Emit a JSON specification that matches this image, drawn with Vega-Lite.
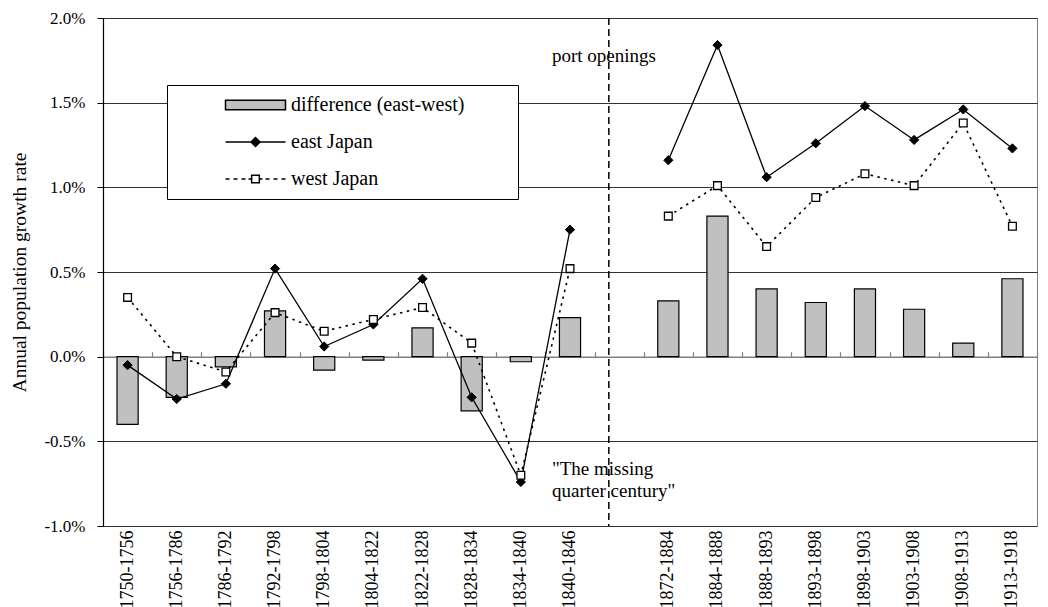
{
  "$schema": "https://vega.github.io/schema/vega-lite/v6.json",
  "width": 934,
  "height": 508,
  "autosize": {"type": "none"},
  "padding": {"left": 103, "top": 18, "right": 11, "bottom": 81},
  "background": "white",
  "config": {
    "font": "Liberation Serif",
    "view": {"stroke": "#808080", "strokeWidth": 1},
    "axis": {"labelFont": "Liberation Serif", "titleFont": "Liberation Serif", "labelColor": "#000", "titleColor": "#000", "titleFontWeight": "normal"},
    "legend": {"labelFont": "Liberation Serif", "labelColor": "#000", "titleFont": "Liberation Serif"}
  },
  "datasets": {
    "rows": [
      {"period": "1750-1756", "era": "a", "diff": -0.40, "east": -0.05, "west": 0.35},
      {"period": "1756-1786", "era": "a", "diff": -0.24, "east": -0.25, "west": 0.00},
      {"period": "1786-1792", "era": "a", "diff": -0.06, "east": -0.16, "west": -0.09},
      {"period": "1792-1798", "era": "a", "diff": 0.27, "east": 0.52, "west": 0.26},
      {"period": "1798-1804", "era": "a", "diff": -0.08, "east": 0.06, "west": 0.15},
      {"period": "1804-1822", "era": "a", "diff": -0.02, "east": 0.19, "west": 0.22},
      {"period": "1822-1828", "era": "a", "diff": 0.17, "east": 0.46, "west": 0.29},
      {"period": "1828-1834", "era": "a", "diff": -0.32, "east": -0.24, "west": 0.08},
      {"period": "1834-1840", "era": "a", "diff": -0.03, "east": -0.74, "west": -0.70},
      {"period": "1840-1846", "era": "a", "diff": 0.23, "east": 0.75, "west": 0.52},
      {"period": "1872-1884", "era": "b", "diff": 0.33, "east": 1.16, "west": 0.83},
      {"period": "1884-1888", "era": "b", "diff": 0.83, "east": 1.84, "west": 1.01},
      {"period": "1888-1893", "era": "b", "diff": 0.40, "east": 1.06, "west": 0.65},
      {"period": "1893-1898", "era": "b", "diff": 0.32, "east": 1.26, "west": 0.94},
      {"period": "1898-1903", "era": "b", "diff": 0.40, "east": 1.48, "west": 1.08},
      {"period": "1903-1908", "era": "b", "diff": 0.28, "east": 1.28, "west": 1.01},
      {"period": "1908-1913", "era": "b", "diff": 0.08, "east": 1.46, "west": 1.38},
      {"period": "1913-1918", "era": "b", "diff": 0.46, "east": 1.23, "west": 0.77}
    ],
    "marker": [{"period": "gap"}],
    "notes": [
      {"period": "1840-1846", "value": 1.776, "label": "port openings"},
      {"period": "1840-1846", "value": -0.663, "label": "\"The missing"},
      {"period": "1840-1846", "value": -0.793, "label": "quarter century\""}
    ],
    "legendItems": [
      {"series": "difference (east-west)"},
      {"series": "east Japan"},
      {"series": "west Japan"}
    ]
  },
  "layer": [
    {
      "data": {"name": "rows"},
      "mark": {"type": "bar", "fill": "#c0c0c0", "stroke": "#000", "strokeWidth": 1.2, "width": {"band": 0.43}},
      "encoding": {
        "x": {
          "field": "period", "type": "nominal", "sort": null,
          "scale": {"domain": ["1750-1756","1756-1786","1786-1792","1792-1798","1798-1804","1804-1822","1822-1828","1828-1834","1834-1840","1840-1846","gap","1872-1884","1884-1888","1888-1893","1893-1898","1898-1903","1903-1908","1908-1913","1913-1918"], "paddingInner": 0, "paddingOuter": 0},
          "axis": {"orient": "bottom", "title": null, "labelAngle": 270, "ticks": false, "domain": false, "grid": false, "labelFontSize": 18, "labelPadding": 4, "labelExpr": "datum.value == 'gap' ? '' : datum.value"}
        },
        "y": {
          "field": "diff", "type": "quantitative",
          "scale": {"domain": [-1, 2], "nice": false, "zero": false},
          "axis": {"title": "Annual population growth rate", "titleFontSize": 19.5, "titlePadding": 14, "values": [-1, -0.5, 0, 0.5, 1, 1.5, 2], "labelExpr": "(datum.value < 0 ? '-' : '') + format(abs(datum.value), '.1f') + '%'", "labelFontSize": 17, "labelPadding": 12, "tickSize": 6, "tickColor": "#000", "domainColor": "#000", "domainWidth": 1.2, "grid": true, "gridColor": "#333", "gridWidth": 1}
        }
      }
    },
    {
      "data": {"name": "rows"},
      "mark": {"type": "line", "color": "#000", "strokeWidth": 1.3},
      "encoding": {
        "x": {"field": "period", "type": "nominal", "sort": null,
          "axis": {"orient": "top", "offset": -338.67, "title": null, "labels": false, "grid": false, "ticks": true, "tickBand": "extent", "tickSize": 5, "tickColor": "#808080", "tickWidth": 1.2, "domainColor": "#808080", "domainWidth": 1.5, "zindex": 0}},
        "y": {"field": "east", "type": "quantitative",
          "axis": {"title": "Annual population growth rate", "titleFontSize": 19.5, "titlePadding": 14, "values": [-1, -0.5, 0, 0.5, 1, 1.5, 2], "labelExpr": "(datum.value < 0 ? '-' : '') + format(abs(datum.value), '.1f') + '%'", "labelFontSize": 17, "labelPadding": 12, "tickSize": 6, "tickColor": "#000", "domainColor": "#000", "domainWidth": 1.2, "grid": true, "gridColor": "#333", "gridWidth": 1}},
        "detail": {"field": "era"}
      }
    },
    {
      "data": {"name": "rows"},
      "mark": {"type": "line", "color": "#000", "strokeWidth": 1.6, "strokeDash": [2.5, 4.5]},
      "encoding": {
        "x": {"field": "period", "type": "nominal", "sort": null, "axis": null},
        "y": {"field": "west", "type": "quantitative",
          "axis": {"title": "Annual population growth rate", "titleFontSize": 19.5, "titlePadding": 14, "values": [-1, -0.5, 0, 0.5, 1, 1.5, 2], "labelExpr": "(datum.value < 0 ? '-' : '') + format(abs(datum.value), '.1f') + '%'", "labelFontSize": 17, "labelPadding": 12, "tickSize": 6, "tickColor": "#000", "domainColor": "#000", "domainWidth": 1.2, "grid": true, "gridColor": "#333", "gridWidth": 1}},
        "detail": {"field": "era"}
      }
    },
    {
      "data": {"name": "rows"},
      "mark": {"type": "point", "shape": "diamond", "size": 85, "filled": true, "fill": "#000", "stroke": "#000", "strokeWidth": 1, "opacity": 1},
      "encoding": {
        "x": {"field": "period", "type": "nominal", "sort": null, "axis": null},
        "y": {"field": "east", "type": "quantitative",
          "axis": {"title": "Annual population growth rate", "titleFontSize": 19.5, "titlePadding": 14, "values": [-1, -0.5, 0, 0.5, 1, 1.5, 2], "labelExpr": "(datum.value < 0 ? '-' : '') + format(abs(datum.value), '.1f') + '%'", "labelFontSize": 17, "labelPadding": 12, "tickSize": 6, "tickColor": "#000", "domainColor": "#000", "domainWidth": 1.2, "grid": true, "gridColor": "#333", "gridWidth": 1}}
      }
    },
    {
      "data": {"name": "rows"},
      "mark": {"type": "point", "shape": "square", "size": 60, "filled": true, "fill": "#fff", "stroke": "#000", "strokeWidth": 1.3, "opacity": 1},
      "encoding": {
        "x": {"field": "period", "type": "nominal", "sort": null, "axis": null},
        "y": {"field": "west", "type": "quantitative",
          "axis": {"title": "Annual population growth rate", "titleFontSize": 19.5, "titlePadding": 14, "values": [-1, -0.5, 0, 0.5, 1, 1.5, 2], "labelExpr": "(datum.value < 0 ? '-' : '') + format(abs(datum.value), '.1f') + '%'", "labelFontSize": 17, "labelPadding": 12, "tickSize": 6, "tickColor": "#000", "domainColor": "#000", "domainWidth": 1.2, "grid": true, "gridColor": "#333", "gridWidth": 1}}
      }
    },
    {
      "data": {"name": "marker"},
      "mark": {"type": "rule", "color": "#000", "strokeWidth": 1.5, "strokeDash": [7, 4]},
      "encoding": {
        "x": {"field": "period", "type": "nominal", "sort": null, "bandPosition": 0.29, "axis": null}
      }
    },
    {
      "data": {"name": "notes"},
      "mark": {"type": "text", "align": "left", "baseline": "middle", "fontSize": 19, "font": "Liberation Serif", "color": "#000"},
      "encoding": {
        "x": {"field": "period", "type": "nominal", "sort": null, "bandPosition": 0.134, "axis": null},
        "y": {"field": "value", "type": "quantitative",
          "axis": {"title": "Annual population growth rate", "titleFontSize": 19.5, "titlePadding": 14, "values": [-1, -0.5, 0, 0.5, 1, 1.5, 2], "labelExpr": "(datum.value < 0 ? '-' : '') + format(abs(datum.value), '.1f') + '%'", "labelFontSize": 17, "labelPadding": 12, "tickSize": 6, "tickColor": "#000", "domainColor": "#000", "domainWidth": 1.2, "grid": true, "gridColor": "#333", "gridWidth": 1}},
        "text": {"field": "label"}
      }
    },
    {
      "data": {"name": "legendItems"},
      "transform": [{"filter": "datum.series == null"}],
      "mark": {"type": "point", "filled": true, "opacity": 1, "fillOpacity": 1, "stroke": "#000", "strokeWidth": 1.2},
      "encoding": {
        "shape": {
          "field": "series", "type": "nominal",
          "scale": {"domain": ["difference (east-west)", "east Japan", "west Japan"],
            "range": [
              "M-6,-0.94H6V0.94H-6Z",
              "M-6,0H6M0,-0.9L0.9,0L0,0.9L-0.9,0Z",
              "M-6,0H-5.2M-4.4,0H-3.6M-2.8,0H-2M-1.4,0H-0.8M-0.77,-0.77H0.77V0.77H-0.77ZM0.8,0H1.4M2,0H2.8M3.6,0H4.4M5.2,0H6"
            ]},
          "legend": {"title": "\u2800", "titleOrient": "right", "titlePadding": 40, "titleFontSize": 6, "orient": "none", "legendX": 64, "legendY": 67, "padding": 10, "fillColor": "#fff", "strokeColor": "#000", "symbolSize": 100, "symbolOffset": 68.5, "labelOffset": 25.5, "labelFontSize": 20, "rowPadding": 17, "labelLimit": 500,
            "encode": {"symbols": {"update": {"stroke": {"value": "#000"}, "strokeWidth": {"value": 1.2}, "opacity": {"value": 1}, "fillOpacity": {"value": 1}, "strokeOpacity": {"value": 1}}}}}
        },
        "fill": {
          "field": "series", "type": "nominal",
          "scale": {"domain": ["difference (east-west)", "east Japan", "west Japan"], "range": ["#c0c0c0", "#000", "#fff"]},
          "legend": {"title": "\u2800", "titleOrient": "right", "titlePadding": 40, "titleFontSize": 6, "orient": "none", "legendX": 64, "legendY": 67, "padding": 10, "fillColor": "#fff", "strokeColor": "#000", "symbolSize": 100, "symbolOffset": 68.5, "labelOffset": 25.5, "labelFontSize": 20, "rowPadding": 17, "labelLimit": 500,
            "encode": {"symbols": {"update": {"stroke": {"value": "#000"}, "strokeWidth": {"value": 1.2}, "opacity": {"value": 1}, "fillOpacity": {"value": 1}, "strokeOpacity": {"value": 1}}}}}
        }
      }
    }
  ],
  "resolve": {"axis": {"x": "independent"}}
}
